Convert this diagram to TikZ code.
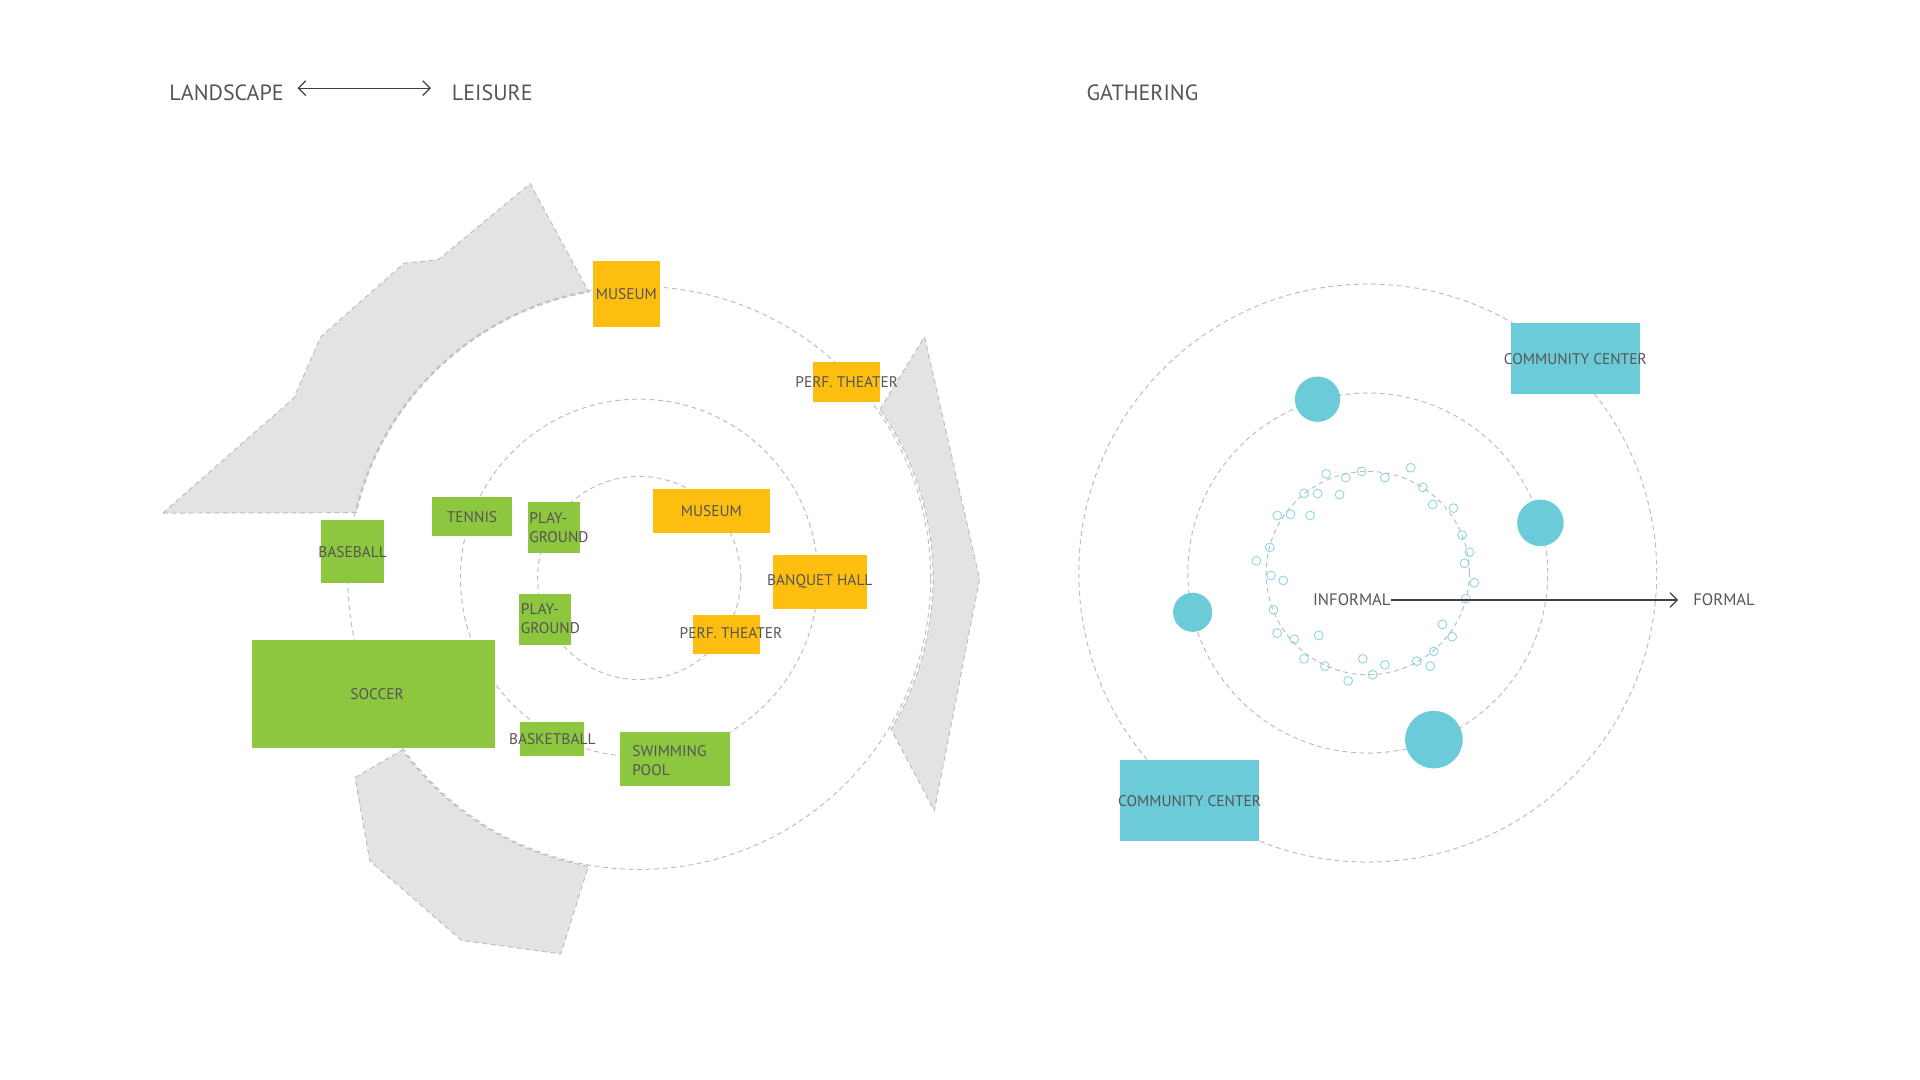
\documentclass[tikz,border=0pt]{standalone}
\usepackage{fontspec}
\setmainfont{PT Sans}
\usetikzlibrary{arrows.meta}
\definecolor{org}{HTML}{FDBE10}
\definecolor{grn}{HTML}{8DC63F}
\definecolor{cyn}{HTML}{6CCBD9}
\definecolor{gfill}{HTML}{E3E3E3}
\definecolor{dline}{HTML}{BDBDBD}
\definecolor{txt}{HTML}{555555}
\tikzset{
  ring/.style={draw=dline,dashed,dash pattern=on 2pt off 1.5pt,line width=0.4pt},
  wedge/.style={fill=gfill,draw=dline,dash pattern=on 2pt off 1.5pt,line width=0.4pt},
  box/.style={inner sep=0pt,font=\fontsize{6.3}{7}\selectfont,text=txt},
  obox/.style={box,fill=org},
  gbox/.style={box,fill=grn},
  cbox/.style={box,fill=cyn},
  lbl/.style={inner sep=0pt,font=\fontsize{6.3}{7.8}\selectfont,text=txt,align=left},
  head/.style={inner sep=0pt,font=\fontsize{9}{10}\selectfont,text=txt},
  dot/.style={circle,fill=cyn,inner sep=0pt},
  sdot/.style={draw=cyn!80,line width=0.35pt},
  arr/.style={draw=black!75,line width=0.5pt}
}
\begin{document}
\begin{tikzpicture}[x=0.5pt,y=-0.5pt]
\useasboundingbox (0,0) rectangle (1568,882);
\coordinate (L) at (522,472);
\coordinate (R) at (1117,468);
% gray wedges
\path[wedge] (133,419) -- (240,325) -- (262,275) -- (330,215) -- (358,212) -- (433,150) -- ([shift={(100:118.5pt)}]L) arc[start angle=100,end angle=167,radius=118.5pt] -- cycle;
\path[wedge] ([shift={(35:120pt)}]L) -- (755,275) -- (800,473) -- (763,662) -- ([shift={(-31:120pt)}]L) arc[start angle=-31,end angle=35,radius=120pt] -- cycle;
\path[wedge] (290,635) -- ([shift={(216:119.5pt)}]L) arc[start angle=216,end angle=260,radius=119.5pt] -- (458,779) -- (377,768) -- (302,703) -- cycle;
% rings left
\draw[ring] (L) circle[radius=119pt];
\draw[ring] (L) circle[radius=73pt];
\draw[ring] (L) circle[radius=41.5pt];
% rings right
\draw[ring] (R) circle[radius=118pt];
\draw[ring] (R) circle[radius=73.5pt];
\draw[ring] (R) circle[radius=41.5pt];
% boxes left
\node[obox,minimum width=27.5pt,minimum height=27pt] (mus1) at (511.5,240) {\makebox[0pt]{MUSEUM}};
\node[obox,minimum width=27.5pt,minimum height=16pt] (perf1) at (691.5,312) {\makebox[0pt]{PERF. THEATER}};
\node[obox,minimum width=48pt,minimum height=18pt] (mus2) at (581,417) {\makebox[0pt]{MUSEUM}};
\node[obox,minimum width=38.5pt,minimum height=22pt] (banq) at (669.5,475) {\makebox[0pt]{BANQUET HALL}};
\node[obox,minimum width=27.5pt,minimum height=16pt] (perf2) at (593.5,518) {};
\node[box] (perf2t) at (597,517) {\makebox[0pt]{PERF. THEATER}};
\node[gbox,minimum width=32.5pt,minimum height=16pt] (tennis) at (385.5,422) {\makebox[0pt]{TENNIS}};
\node[gbox,minimum width=21.5pt,minimum height=21pt] (pg1) at (452.5,431) {};
\node[lbl,anchor=west] (pg1t) at (432,431) {PLAY-\\GROUND};
\node[gbox,minimum width=21pt,minimum height=21pt] (pg2) at (445,506) {};
\node[lbl,anchor=west] (pg2t) at (425,505) {PLAY-\\GROUND};
\node[gbox,minimum width=26pt,minimum height=25.5pt] (base) at (288,450.5) {\makebox[0pt]{BASEBALL}};
\node[gbox,minimum width=99pt,minimum height=44pt] (soccer) at (305,567) {};
\node[box] (soccert) at (308,567) {SOCCER};
\node[gbox,minimum width=26pt,minimum height=13.5pt] (bask) at (451,603.5) {\makebox[0pt]{BASKETBALL}};
\node[gbox,minimum width=45pt,minimum height=22pt] (swim) at (551,620) {};
\node[lbl,anchor=west] (swimt) at (516,621) {SWIMMING\\POOL};
% headers
\node[head] (land) at (185,76) {LANDSCAPE};
\node[head] (leis) at (402,76) {LEISURE};
\node[head] (gath) at (933,76) {GATHERING};
\coordinate (a1) at (243,72);
\coordinate (a2) at (352,72);
\draw[arr,{Straight Barb[length=3pt]}-{Straight Barb[length=3pt]}] (a1) -- (a2);
% right side
\node[cbox,minimum width=52.5pt,minimum height=29pt] (cc1) at (1286.5,293) {\makebox[0pt]{COMMUNITY CENTER}};
\node[cbox,minimum width=56.5pt,minimum height=33pt] (cc2) at (971.5,654) {\makebox[0pt]{COMMUNITY CENTER}};
\node[dot,minimum size=18.5pt] (d1) at (1076,326) {};
\node[dot,minimum size=19pt] (d2) at (1258,427) {};
\node[dot,minimum size=16pt] (d3) at (974,500) {};
\node[dot,minimum size=23.5pt] (d4) at (1171,604) {};
\foreach \p in {(1083,387),(1099,390),(1112,385),(1131,390),(1152,382),(1065,403),(1076,403),(1094,404),(1162,398),(1170,412),(1187,415),(1043,421),(1054,420),(1070,421),(1194,437),(1200,451),(1037,447),(1026,458),(1038,470),(1048,474),(1196,460),(1204,476),(1197,489),(1040,498),(1178,510),(1186,520),(1043,517),(1057,522),(1077,519),(1171,532),(1065,538),(1082,544),(1113,538),(1131,543),(1157,540),(1168,544),(1101,556),(1121,551)}
  \draw[sdot] \p circle[radius=1.8pt];
\node[head,font=\fontsize{6.8}{8}\selectfont] (inf) at (1104,490) {INFORMAL};
\node[head,font=\fontsize{6.8}{8}\selectfont] (form) at (1408,490) {FORMAL};
\draw[arr,-{Straight Barb[length=3pt]}] (inf.east) -- ([xshift=-6pt]form.west);
\end{tikzpicture}
\end{document}
